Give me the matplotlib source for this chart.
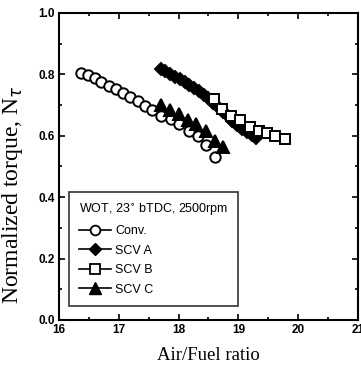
import matplotlib.pyplot as plt
from matplotlib.lines import Line2D
from matplotlib.ticker import MultipleLocator

# Values
conv_x = [16.37, 16.48, 16.60, 16.71, 16.83, 16.96, 17.07, 17.18, 17.32, 17.43, 17.56,
          17.71, 17.87, 18.01, 18.17, 18.32, 18.46, 18.61]
conv_y = [0.806, 0.799, 0.788, 0.774, 0.763, 0.752, 0.739, 0.726, 0.712, 0.698, 0.685,
          0.665, 0.654, 0.639, 0.617, 0.598, 0.571, 0.532]

scv_a_x = [17.70, 17.78, 17.86, 17.94, 18.02, 18.10, 18.18, 18.26, 18.34, 18.42, 18.50,
           18.58, 18.66, 18.74, 18.82, 18.90, 18.98, 19.06, 19.14, 19.22, 19.30]
scv_a_y = [0.817, 0.810, 0.801, 0.793, 0.785, 0.776, 0.765, 0.755, 0.745, 0.734, 0.722,
           0.708, 0.694, 0.678, 0.663, 0.648, 0.634, 0.622, 0.611, 0.601, 0.592]

scv_b_x = [18.59, 18.73, 18.88, 19.02, 19.19, 19.34, 19.48, 19.62, 19.78]
scv_b_y = [0.720, 0.687, 0.663, 0.650, 0.628, 0.617, 0.609, 0.600, 0.589]

scv_c_x = [17.71, 17.85, 18.01, 18.15, 18.29, 18.46, 18.61, 18.75]
scv_c_y = [0.700, 0.683, 0.670, 0.650, 0.640, 0.614, 0.583, 0.562]

x_ticks = [16, 17, 18, 19, 20, 21]
y_ticks = [0.0, 0.2, 0.4, 0.6, 0.8, 1.0]

fig = plt.figure(figsize=(3.61, 3.66), dpi=100)
ax = fig.add_axes([0.1634, 0.1257, 0.8283, 0.8388])

mk = dict(linestyle='none', color='black', markersize=7.5, markeredgewidth=1.4)
ax.plot(conv_x, conv_y, marker='o', markerfacecolor='white', **mk)
ax.plot(scv_c_x, scv_c_y, marker='^', markerfacecolor='black', **{**mk, 'markersize': 8})
ax.plot(scv_a_x, scv_a_y, marker='D', markerfacecolor='black', **{**mk, 'markersize': 6.5})
ax.plot(scv_b_x, scv_b_y, marker='s', markerfacecolor='white', **{**mk, 'markersize': 7})

ax.set_xlim(16, 21)
ax.set_ylim(0, 1.0)
ax.set_xticks(x_ticks)
ax.set_yticks(y_ticks)
ax.xaxis.set_minor_locator(MultipleLocator(0.5))
ax.yaxis.set_minor_locator(MultipleLocator(0.1))
ax.set_xticklabels([str(t) for t in x_ticks], fontsize=8.5, fontweight='bold',
                   family='Liberation Sans')
ax.set_yticklabels([f'{t:.1f}' for t in y_ticks], fontsize=8.5, fontweight='bold',
                   family='Liberation Sans')
ax.tick_params(which='both', direction='in', top=True, right=True, width=1.2)
ax.tick_params(which='major', length=4, pad=3)
ax.tick_params(which='minor', length=2)
for s in ax.spines.values():
    s.set_linewidth(1.5)

ax.set_xlabel('Air/Fuel ratio', family='Liberation Serif', fontsize=13.5, labelpad=8)
ax.set_ylabel(r'Normalized torque, N$_\tau$', family='Liberation Serif', fontsize=17)
ax.yaxis.set_label_coords(-0.115, 0.41)

handles = [
    Line2D([], [], color='black', lw=1.2, marker='o', markerfacecolor='white',
           markersize=7, markeredgewidth=1.3),
    Line2D([], [], color='black', lw=1.2, marker='D', markerfacecolor='black',
           markersize=6),
    Line2D([], [], color='black', lw=1.2, marker='s', markerfacecolor='white',
           markersize=7, markeredgewidth=1.3),
    Line2D([], [], color='black', lw=1.2, marker='^', markerfacecolor='black',
           markersize=8),
]
labels = ['Conv.', 'SCV A', 'SCV B', 'SCV C']
leg = ax.legend(handles, labels, title='WOT, 23$^{\\circ}$ bTDC, 2500rpm',
                loc='lower left', bbox_to_anchor=(0.033, 0.046),
                prop={'family': 'Liberation Sans', 'size': 9},
                title_fontproperties={'family': 'Liberation Sans', 'size': 9},
                frameon=True, fancybox=False, edgecolor='black',
                handlelength=2.6, handletextpad=0.3, labelspacing=0.6,
                borderpad=0.8, borderaxespad=0)
leg._legend_box.align = 'left'
leg.get_frame().set_linewidth(1.2)

fig.savefig('out.png', dpi=100)
